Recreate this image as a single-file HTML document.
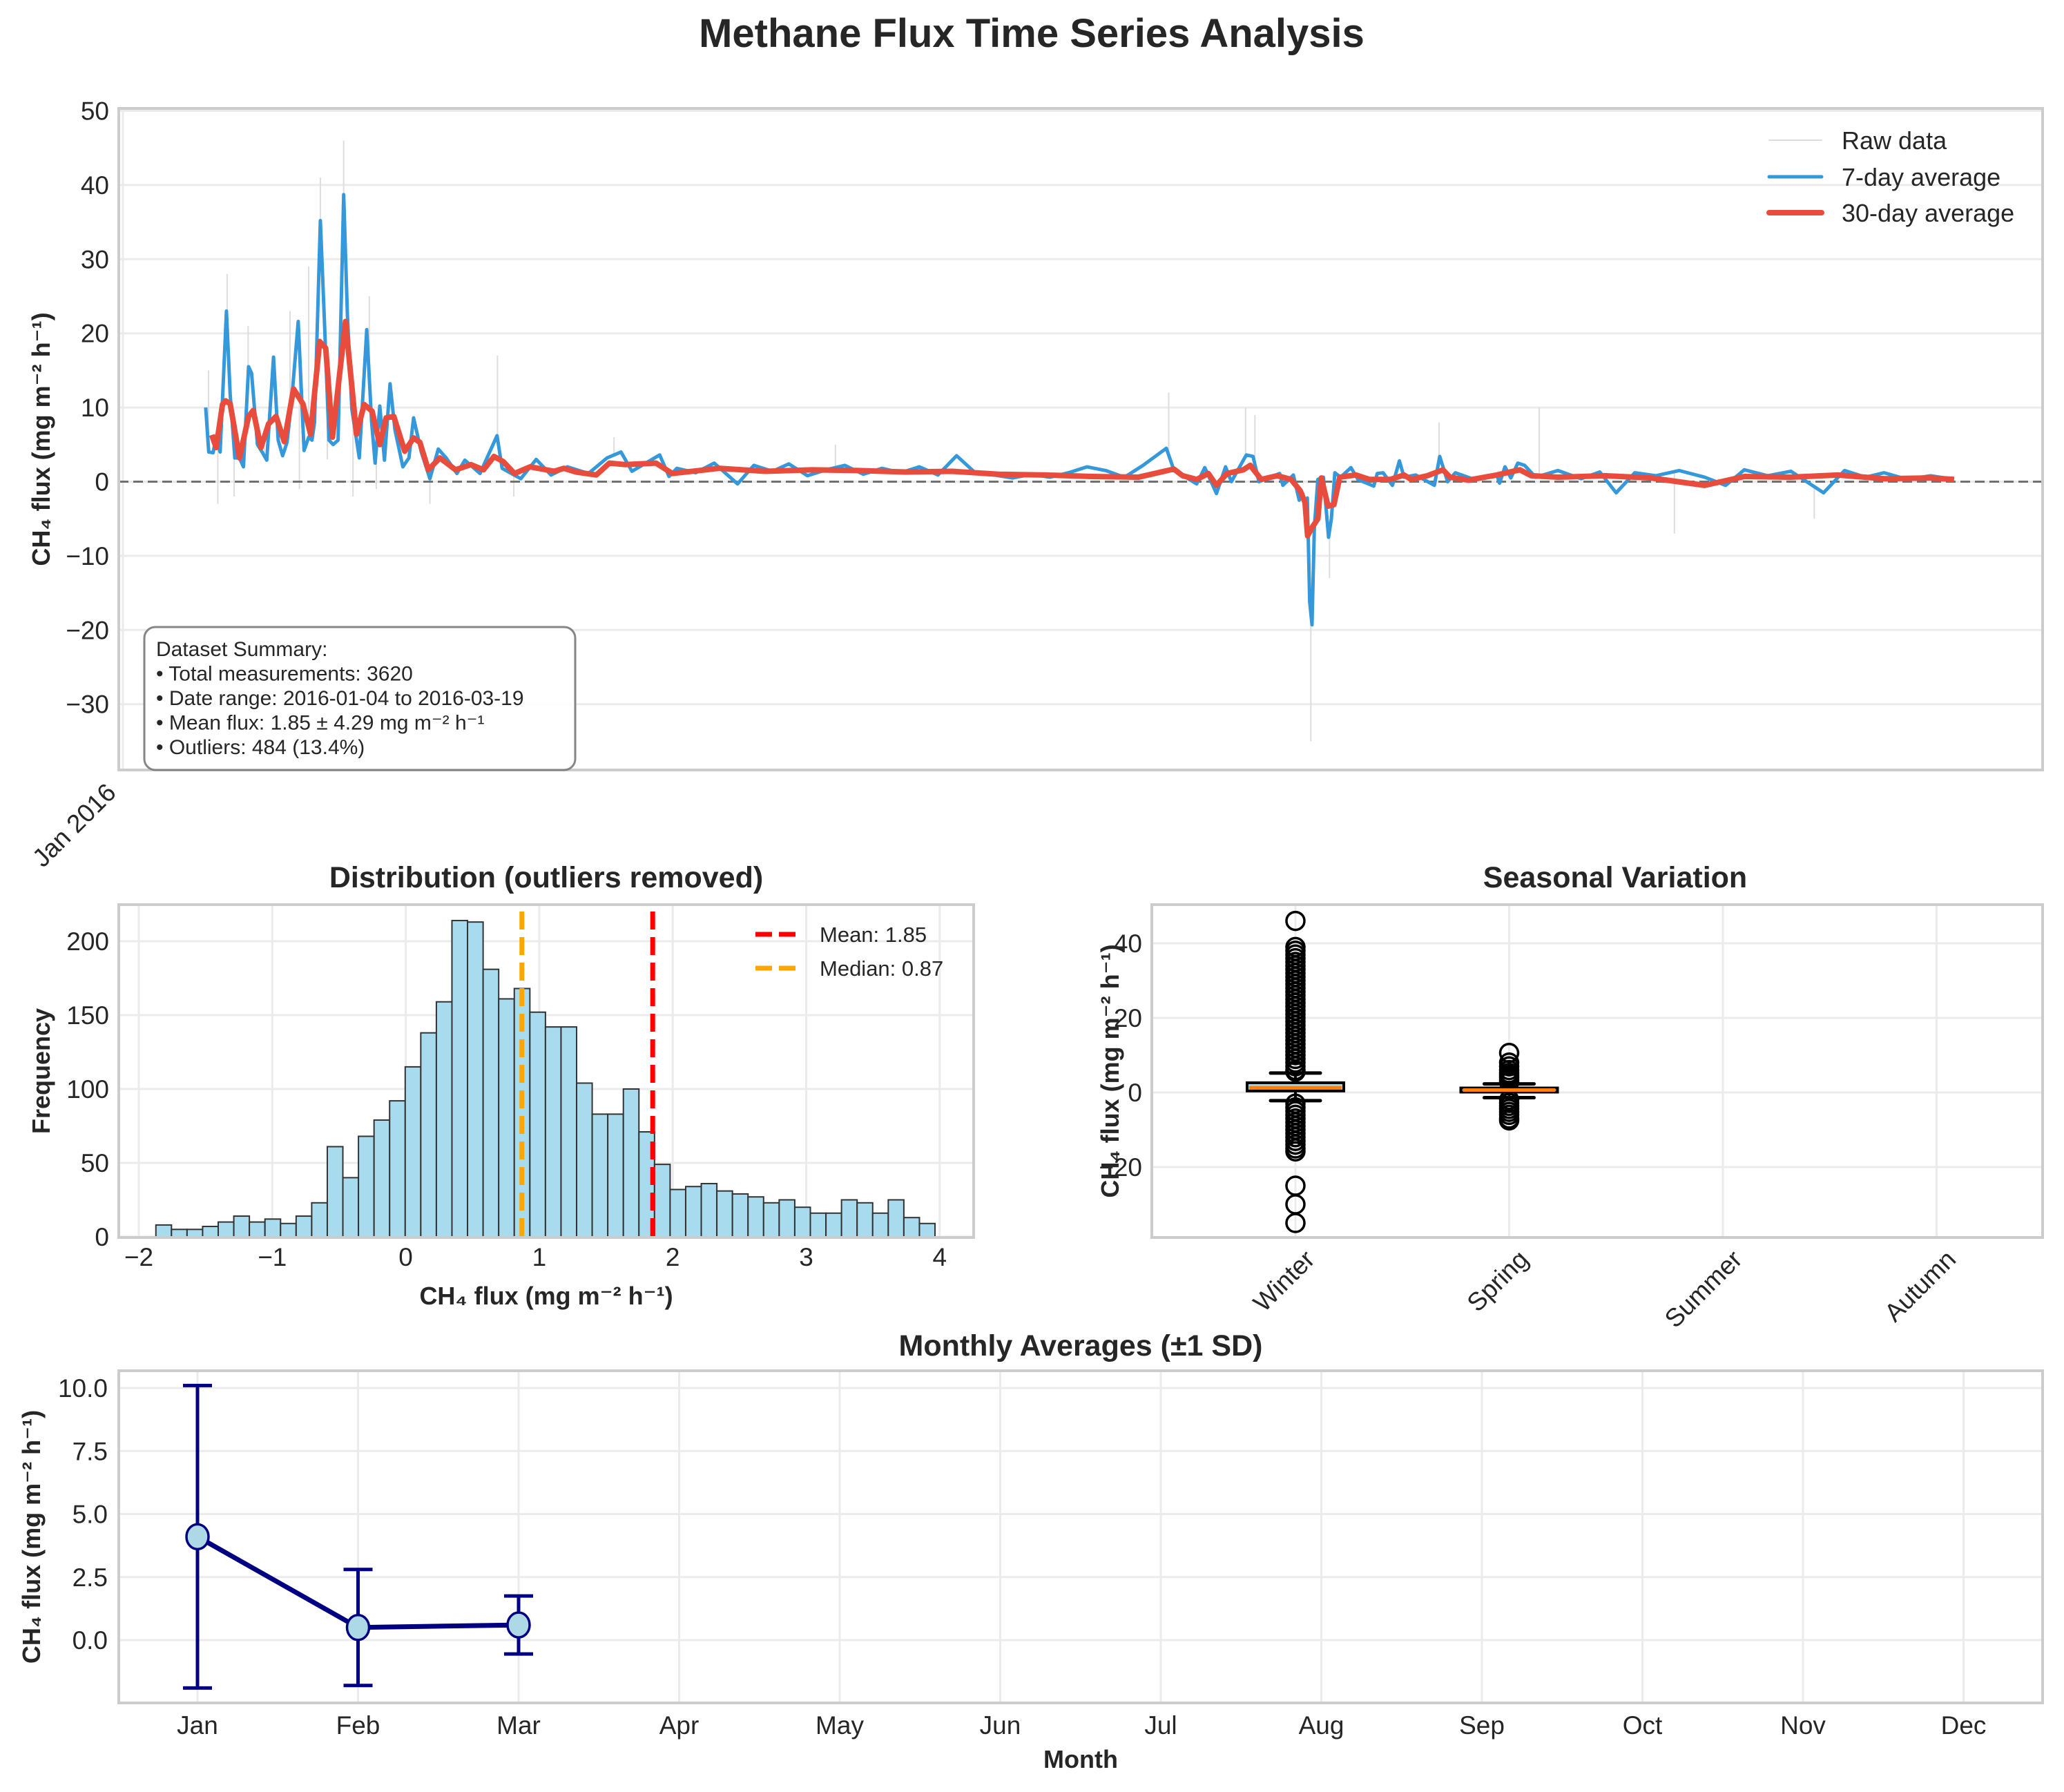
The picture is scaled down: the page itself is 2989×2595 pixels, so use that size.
<!DOCTYPE html>
<html><head><meta charset="utf-8"><style>
html,body{margin:0;padding:0;background:#fff}
svg{display:block;font-family:"Liberation Sans","DejaVu Sans",sans-serif}
</style></head><body>
<svg id="fig" xmlns="http://www.w3.org/2000/svg" width="2989" height="2595" viewBox="0 0 2989 2595">
<rect width="2989" height="2595" fill="#fff"/>
<text x="1494" y="68" text-anchor="middle" font-size="58" font-weight="bold" fill="#262626">Methane Flux Time Series Analysis</text>
<g id="ts"></g>
<g id="hist"></g>
<g id="box"></g>
<g id="mon"></g>
</svg>
<script>
// ---------- time series data ----------
const avg7Days = [2.98,3.11,3.3,3.43,3.6,3.87,4.03,4.23,4.43,4.6,4.82,4.95,5.2,5.4,5.6,5.89,6.09,6.28,6.47,6.67,6.95,7.2,7.4,7.54,7.65,7.9,8.07,8.27,8.45,8.66,8.9,9.06,9.25,9.57,9.89,10.1,10.25,10.45,10.65,10.89,11.1,11.44,11.7,11.9,12.23,12.6,12.96,13.3,13.76,14.1,14.75,15.48,15.7,16.5,17.16,17.8,18.5,19.4,20.2,20.8,21.27,22.46,22.86,23.2,24,24.8,25.8,26.5,27.3,28,28.8,29.6,30.4,31.2,32,32.8,33.6,34.4,35.2,36,36.8,37.6,38.4,39.2,40,40.8,41.6,42.4,43.2,44.2,44.52,45.5,45.85,46.35,46.74,46.99,47.63,47.92,48.17,49.06,49.2,49.65,49.9,50.05,50.15,50.25,50.35,50.45,50.55,50.7,50.94,51.16,51.28,51.43,51.68,52.12,52.42,53.1,53.25,53.5,53.9,54.2,54.4,54.9,55.7,55.93,56.27,56.6,57.4,58.38,58.5,58.73,58.98,59.28,59.57,60.05,61,62,62.8,63.5,64.3,65.2,66.2,67.3,68.2,69,70,71,72.4,73.3,74.2,75,76,77,78];
const avg7Vals = [10,4,3.9,6.2,4,23,11.8,3.2,3.2,2,15.5,14.6,5,4,2.9,16.8,5.6,3.5,5.3,11,21.6,4.2,6,5.6,8,35.2,22,5.6,5,5.6,38.7,22.5,9.8,3.2,20.5,8,2.5,10.2,2.9,13.2,7,2,3.2,8.6,4,0.4,4.4,3.2,1.1,2.9,1.1,6.2,1.8,0.4,3,0.9,2,1.1,3.2,4,1.4,3.6,0.7,1.8,1.2,2.5,-0.3,2.2,1.4,2.4,0.8,1.6,2.2,1.0,1.8,1.2,2.0,0.9,3.5,1.2,0.9,0.5,1.0,0.6,1.2,2.0,1.5,0.6,2.2,4.5,1.6,-0.3,1.9,-1.6,2,0,3.6,3.4,0,1.1,-0.5,0.9,-2.5,-1.6,-2.8,-2.2,-16.2,-19.3,-6.2,0.3,0.6,-7.5,-5,1.2,0.6,1.9,0.3,-0.6,1.1,1.2,-0.5,2.8,0.6,0.9,-0.5,3.4,0,1.2,0.3,0.9,-0.2,2,0.5,2.5,2.2,0.6,1.5,0.4,1.3,-1.5,1.2,0.8,1.5,0.6,-0.5,1.6,0.8,1.4,-1.5,1.5,0.6,1.2,0.3,0.8,0.3];
const avg30Days = [3.24,3.43,3.7,3.83,4.03,4.43,4.82,5.02,5.35,5.68,6.0,6.35,6.75,7.15,7.48,7.87,8.13,8.42,8.98,9.45,9.78,10.12,10.45,10.72,11.05,11.52,11.9,12.17,12.53,13.03,13.7,14.36,14.9,15.35,15.75,16.23,16.9,17.93,18.35,18.87,19.74,20.3,21,22.3,23,25,27,29,31,33,35,37,39,41,43,44.52,44.9,45.5,46,46.35,46.8,47.5,47.8,48.27,48.96,49.55,49.94,50.15,50.26,50.45,50.7,50.85,51.14,51.39,51.64,52.33,52.92,53.81,54.4,54.7,55.4,56.07,56.37,57.16,58.38,59.37,59.86,61,63,65,67.3,69,71,73,75,77,78];
const avg30Vals = [6.3,4.6,10.4,10.9,10.5,3.2,8.8,9.6,4.6,7.8,8.8,5.4,12.5,10.5,6.4,18.9,18,6,21.6,6.4,10.4,9.5,5,8.6,8.8,4.1,5.9,5.3,1.6,3.2,1.6,2.3,1.6,3.4,2.7,1.1,2,1.4,1.8,1.3,0.9,2.5,2.3,2.5,1.1,1.8,1.4,1.6,1.5,1.3,1.4,1.0,0.9,0.7,0.6,1.7,0.8,0.3,1.1,-0.5,1.1,1.6,2.2,0.3,0.8,0.3,-1.2,-2.8,-7.3,-6.2,-5,0.5,-3.3,-3.1,0.6,0.9,0.3,0.3,0.9,0.3,0.8,1.6,0.6,0.2,0.9,1.6,0.8,0.6,0.8,0.5,-0.5,0.7,0.6,0.9,0.4,0.5,0.3];
const rawDays = [3.1,3.5,3.9,4.2,4.8,5.5,6.6,7.0,7.4,7.9,8.2,8.9,9.3,10.0,10.3,12.6,15.5,16.2,20.5,30,44.3,47.6,48.0,50.3,50.4,50.6,51.2,51.4,55.9,60.2,66,72];
const rawVals = [15,-3,28,-2,21,5,23,-1,29,41,3,46,-2,25,-1,-3,17,-2,6,5,12,10,9,-4,-35,-5,-13,-2,8,10,-7,-5];
const tsTicks = [50,40,30,20,10,0,-10,-20,-30];

// ---------- histogram data ----------
const histStart = -1.872, histBinWidth = 0.11674;
const histCounts = [8,5,5,7,10,14,10,12,9,14,23,61,40,68,79,92,115,138,159,214,213,181,161,168,152,142,142,104,83,83,100,71,49,32,34,36,31,29,27,23,25,20,16,16,25,23,16,25,13,9];
const histXTicks = [-2,-1,0,1,2,3,4];
const histYTicks = [0,50,100,150,200];
const meanVal = 1.85, medianVal = 0.87;

// ---------- box plot data ----------
const seasons = ["Winter","Spring","Summer","Autumn"];
const boxQ1 = [0.4,0.1], boxMed = [1.3,0.65], boxQ3 = [2.6,1.2], whiskLo = [-2.2,-1.4], whiskHi = [5.2,2.3];
const winterOutliers = [46,39,38,37,36,35,34,33,32,31,30,29,28,27,26,25,24,23,22,21,20,19,18,17,16,15,14,13,12,11,10,9,8,7,6,5.6,-3,-4,-5,-6,-7,-8,-9,-10,-11,-12,-13,-14,-15,-15.8,-25,-30,-35];
const springOutliers = [10.6,8,7,6,5.2,4.6,4,3.4,2.8,-2,-2.8,-3.6,-4.4,-5.2,-6,-7,-7.5];
const boxYTicks = [40,20,0,-20];

// ---------- monthly data ----------
const months = ["Jan","Feb","Mar","Apr","May","Jun","Jul","Aug","Sep","Oct","Nov","Dec"];
const monthMeans = [4.1,0.5,0.6];
const monthSD = [6.0,2.3,1.15];
const monYTicks = [0.0,2.5,5.0,7.5,10.0];

const NS = "http://www.w3.org/2000/svg";
function mk(parent, tag, attrs, text){
  const e = document.createElementNS(NS, tag);
  for (const k in attrs) e.setAttribute(k, attrs[k]);
  if (text !== undefined) e.textContent = text;
  parent.appendChild(e);
  return e;
}
const GRID = "#ebebeb", SPINE = "#cccccc", TXT = "#262626";
const YLAB = "CH₄ flux (mg m⁻² h⁻¹)";
function interp(days, vals, d){
  if (d <= days[0]) return vals[0];
  for (let i=1;i<days.length;i++){
    if (d <= days[i]){ const t=(d-days[i-1])/(days[i]-days[i-1]); return vals[i-1]+t*(vals[i]-vals[i-1]); }
  }
  return vals[vals.length-1];
}

// ===== time series =====
(function(){
  const g = document.getElementById('ts');
  const L=172,R=2958,T=157,B=1115;
  const x = d => L + (d + 0.75) * 33.75;
  const y = v => 697.5 - v * 10.74;
  tsTicks.forEach(t=>{
    const gl = mk(g,'line',{x1:L,x2:R,y1:y(t),y2:y(t),stroke:GRID,'stroke-width':3});
    
    
    const tl = mk(g,'text',{x:L-14,y:y(t)+13,'text-anchor':'end','font-size':37,fill:TXT}, t<0?'−'+(-t):String(t));
    
    
  });
  const vg = mk(g,'line',{x1:L+6,x2:L+6,y1:T,y2:B,stroke:GRID,'stroke-width':3});
  
  
  rawDays.forEach((d,i)=>{
    const base = interp(avg7Days, avg7Vals, d);
    const s = mk(g,'line',{x1:x(d),x2:x(d),y1:y(base),y2:y(rawVals[i]),stroke:'#dddddd','stroke-width':2});
    
    
  });
  const zl = mk(g,'line',{x1:L,x2:R,y1:y(0),y2:y(0),stroke:'#707070','stroke-width':3,'stroke-dasharray':'14,7'});
  
  
  const l7 = mk(g,'polyline',{points:avg7Days.map((d,i)=>x(d)+','+y(avg7Vals[i])).join(' '),fill:'none',stroke:'#3498db','stroke-width':5,'stroke-linejoin':'round'});
  
  
  const l30 = mk(g,'polyline',{points:avg30Days.map((d,i)=>x(d)+','+y(avg30Vals[i])).join(' '),fill:'none',stroke:'#e74c3c','stroke-width':8,'stroke-linejoin':'round'});
  
  
  const fr = mk(g,'rect',{x:L,y:T,width:R-L,height:B-T,fill:'none',stroke:SPINE,'stroke-width':4});
  
  
  const yl = mk(g,'text',{x:0,y:0,transform:'translate(72,'+((T+B)/2)+') rotate(-90)','text-anchor':'middle','font-size':36,'font-weight':'bold',fill:TXT},YLAB);
  
  
  const xt = mk(g,'text',{x:0,y:0,transform:'translate(170,1150) rotate(-45)','text-anchor':'end','font-size':37,fill:TXT},'Jan 2016');
  
  
  const leg = [['Raw data','#dcdcdc',2,203],['7-day average','#3498db',5,256],['30-day average','#e74c3c',8,308]];
  leg.forEach(l=>{
    const ln = mk(g,'line',{x1:2562,x2:2638,y1:l[3],y2:l[3],stroke:l[1],'stroke-width':l[2],'stroke-linecap':'round'});
    
    
    const tx = mk(g,'text',{x:2667,y:l[3]+13,'font-size':36,fill:TXT},l[0]);
    
    
  });
  const sb = mk(g,'rect',{x:209,y:908,width:624,height:207,rx:16,fill:'#fff',stroke:'#808080','stroke-width':3,opacity:0.95});
  
  
  const lines = ['Dataset Summary:','• Total measurements: 3620','• Date range: 2016-01-04 to 2016-03-19','• Mean flux: 1.85 ± 4.29 mg m⁻² h⁻¹','• Outliers: 484 (13.4%)'];
  lines.forEach((s,i)=>{
    const t = mk(g,'text',{x:226,y:950+i*35.5,'font-size':30,fill:TXT},s);
    
    
  });
})();

// ===== histogram =====
(function(){
  const g = document.getElementById('hist');
  const L=172,R=1410,T=1310,B=1792;
  const x = v => 201 + (v + 2) * 193.3;
  const y = c => 1791 - c * 2.14;
  histXTicks.forEach(t=>{
    const gl = mk(g,'line',{x1:x(t),x2:x(t),y1:T,y2:B,stroke:GRID,'stroke-width':3});
    
    
    const tl = mk(g,'text',{x:x(t),y:1833,'text-anchor':'middle','font-size':37,fill:TXT},t<0?'−'+(-t):String(t));
    
    
  });
  histYTicks.forEach(t=>{
    const gl = mk(g,'line',{x1:L,x2:R,y1:y(t),y2:y(t),stroke:GRID,'stroke-width':3});
    
    
    const tl = mk(g,'text',{x:L-14,y:y(t)+13,'text-anchor':'end','font-size':37,fill:TXT},String(t));
    
    
  });
  histCounts.forEach((c,i)=>{
    const x0 = x(histStart + i*histBinWidth), x1 = x(histStart + (i+1)*histBinWidth);
    const r = mk(g,'rect',{x:x0,y:y(c),width:x1-x0,height:y(0)-y(c),fill:'#a8dbee',stroke:'#333','stroke-width':2});
    
    
  });
  const ml = mk(g,'line',{x1:x(meanVal),x2:x(meanVal),y1:T+10,y2:B,stroke:'#ff0000','stroke-width':7,'stroke-dasharray':'26,11'});
  
  
  const dl = mk(g,'line',{x1:x(medianVal),x2:x(medianVal),y1:T+10,y2:B,stroke:'#ffa500','stroke-width':7,'stroke-dasharray':'26,11'});
  
  
  const fr = mk(g,'rect',{x:L,y:T,width:R-L,height:B-T,fill:'none',stroke:SPINE,'stroke-width':4});
  
  
  [['Mean: 1.85','#ff0000',1353],['Median: 0.87','#ffa500',1402]].forEach(l=>{
    const ln = mk(g,'line',{x1:1094,x2:1160,y1:l[2],y2:l[2],stroke:l[1],'stroke-width':7,'stroke-dasharray':'24,10'});
    
    
    const tx = mk(g,'text',{x:1187,y:l[2]+11,'font-size':31,fill:TXT},l[0]);
    
    
  });
  const tt = mk(g,'text',{x:791,y:1285,'text-anchor':'middle','font-size':43,'font-weight':'bold',fill:TXT},'Distribution (outliers removed)');
  
  
  const xl = mk(g,'text',{x:791,y:1889,'text-anchor':'middle','font-size':36,'font-weight':'bold',fill:TXT},YLAB);
  
  
  const yl = mk(g,'text',{x:0,y:0,transform:'translate(72,'+((T+B)/2)+') rotate(-90)','text-anchor':'middle','font-size':36,'font-weight':'bold',fill:TXT},'Frequency');
  
  
})();

// ===== box plot =====
(function(){
  const g = document.getElementById('box');
  const L=1668,R=2958,T=1310,B=1792;
  const x = i => 1876 + i * 309.5;
  const y = v => 1582 - v * 5.4;
  boxYTicks.forEach(t=>{
    const gl = mk(g,'line',{x1:L,x2:R,y1:y(t),y2:y(t),stroke:GRID,'stroke-width':3});
    
    
    const tl = mk(g,'text',{x:L-14,y:y(t)+13,'text-anchor':'end','font-size':37,fill:TXT},t<0?'−'+(-t):String(t));
    
    
  });
  seasons.forEach((s,i)=>{
    const gl = mk(g,'line',{x1:x(i),x2:x(i),y1:T,y2:B,stroke:GRID,'stroke-width':3});
    
    
    const tl = mk(g,'text',{x:0,y:0,transform:'translate('+(x(i)+30)+',1826) rotate(-45)','text-anchor':'end','font-size':37,fill:TXT},s);
    
    
  });
  const outs = [winterOutliers, springOutliers];
  boxQ1.forEach((q1,i)=>{
    const cx = x(i), hw = 70, cw = 36;
    mk(g,'line',{x1:cx,x2:cx,y1:y(whiskHi[i]),y2:y(boxQ3[i]),stroke:'#000','stroke-width':4});
    mk(g,'line',{x1:cx,x2:cx,y1:y(whiskLo[i]),y2:y(q1),stroke:'#000','stroke-width':4});
    const c1 = mk(g,'line',{x1:cx-cw,x2:cx+cw,y1:y(whiskHi[i]),y2:y(whiskHi[i]),stroke:'#000','stroke-width':5,'stroke-linecap':'round'});
    
    
    const c2 = mk(g,'line',{x1:cx-cw,x2:cx+cw,y1:y(whiskLo[i]),y2:y(whiskLo[i]),stroke:'#000','stroke-width':5,'stroke-linecap':'round'});
    
    
    outs[i].forEach(v=>{
      const o = mk(g,'circle',{cx:cx,cy:y(v),r:13,fill:'none',stroke:'#000','stroke-width':3.5});
      
      
    });
    const b = mk(g,'rect',{x:cx-hw,y:y(boxQ3[i]),width:2*hw,height:y(q1)-y(boxQ3[i]),fill:'#add8e6',stroke:'#000','stroke-width':4});
    
    
    const m = mk(g,'line',{x1:cx-hw+3,x2:cx+hw-3,y1:y(boxMed[i]),y2:y(boxMed[i]),stroke:'#ff7f0e','stroke-width':5});
    
    
  });
  const fr = mk(g,'rect',{x:L,y:T,width:R-L,height:B-T,fill:'none',stroke:SPINE,'stroke-width':4});
  
  
  const tt = mk(g,'text',{x:2339,y:1285,'text-anchor':'middle','font-size':43,'font-weight':'bold',fill:TXT},'Seasonal Variation');
  
  
  const yl = mk(g,'text',{x:0,y:0,transform:'translate(1620,'+((T+B)/2)+') rotate(-90)','text-anchor':'middle','font-size':36,'font-weight':'bold',fill:TXT},YLAB);
  
  
})();

// ===== monthly =====
(function(){
  const g = document.getElementById('mon');
  const L=172,R=2958,T=1985,B=2466;
  const x = i => 286 + i * 232.5;
  const y = v => 2375 - v * 36.5;
  monYTicks.forEach(t=>{
    const gl = mk(g,'line',{x1:L,x2:R,y1:y(t),y2:y(t),stroke:GRID,'stroke-width':3});
    
    
    const tl = mk(g,'text',{x:L-16,y:y(t)+13,'text-anchor':'end','font-size':37,fill:TXT},t.toFixed(1));
    
    
  });
  months.forEach((m,i)=>{
    const gl = mk(g,'line',{x1:x(i),x2:x(i),y1:T,y2:B,stroke:GRID,'stroke-width':3});
    
    
    const tl = mk(g,'text',{x:x(i),y:2511,'text-anchor':'middle','font-size':37,fill:TXT},m);
    
    
  });
  const ln = mk(g,'polyline',{points:monthMeans.map((v,i)=>x(i)+','+y(v)).join(' '),fill:'none',stroke:'#000080','stroke-width':7});
  
  
  monthMeans.forEach((v,i)=>{
    const cx=x(i), top=y(v+monthSD[i]), bot=y(v-monthSD[i]);
    const eb = mk(g,'line',{x1:cx,x2:cx,y1:top,y2:bot,stroke:'#000080','stroke-width':5});
    
    
    mk(g,'line',{x1:cx-21,x2:cx+21,y1:top,y2:top,stroke:'#000080','stroke-width':5});
    mk(g,'line',{x1:cx-21,x2:cx+21,y1:bot,y2:bot,stroke:'#000080','stroke-width':5});
    const p = mk(g,'ellipse',{cx:cx,cy:y(v),rx:16,ry:18,fill:'#add8e6',stroke:'#000080','stroke-width':3.5});
    
    
  });
  const fr = mk(g,'rect',{x:L,y:T,width:R-L,height:B-T,fill:'none',stroke:SPINE,'stroke-width':4});
  
  
  const tt = mk(g,'text',{x:1565,y:1963,'text-anchor':'middle','font-size':43,'font-weight':'bold',fill:TXT},'Monthly Averages (±1 SD)');
  
  
  const xl = mk(g,'text',{x:1565,y:2560,'text-anchor':'middle','font-size':36,'font-weight':'bold',fill:TXT},'Month');
  
  
  const yl = mk(g,'text',{x:0,y:0,transform:'translate(58,'+((T+B)/2)+') rotate(-90)','text-anchor':'middle','font-size':36,'font-weight':'bold',fill:TXT},YLAB);
  
  
})();
</script>
</body></html>
